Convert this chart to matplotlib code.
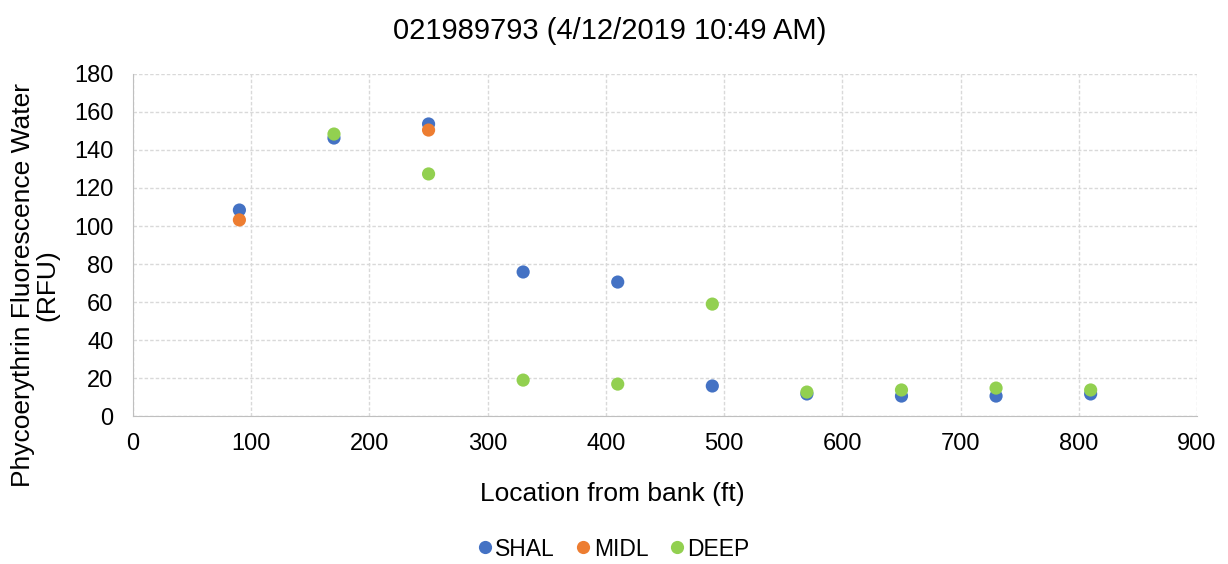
import matplotlib
matplotlib.use("Agg")
import matplotlib.pyplot as plt
from matplotlib.lines import Line2D

plt.rcParams['font.family'] = ['Liberation Sans', 'DejaVu Sans']

title = "021989793 (4/12/2019 10:49 AM)"
x_label = "Location from bank (ft)"
y_label = "Phycoerythrin Fluorescence Water\n(RFU)"

shal_x = [90, 170, 250, 330, 410, 490, 570, 650, 730, 810]
shal_y = [108.4, 146.3, 153.7, 75.8, 70.5, 15.8, 11.6, 10.5, 10.5, 11.6]
midl_x = [90, 250]
midl_y = [103.2, 150.5]
deep_x = [170, 250, 330, 410, 490, 570, 650, 730, 810]
deep_y = [148.4, 127.4, 18.9, 16.8, 58.9, 12.6, 13.7, 14.7, 13.7]

series = [("SHAL", shal_x, shal_y, "#4472C4"),
          ("MIDL", midl_x, midl_y, "#ED7D31"),
          ("DEEP", deep_x, deep_y, "#92D050")]

fig = plt.figure(figsize=(12.28, 5.64), dpi=100)
ax = fig.add_axes([0.1083, 0.2624, 0.8665, 0.6064])

for name, xs, ys, c in series:
    ax.scatter(xs, ys, s=90, color=c, edgecolors='none', zorder=3, label=name)

ax.set_xlim(0, 900)
ax.set_ylim(0, 180)
ax.set_xticks(range(0, 901, 100))
ax.set_yticks(range(0, 181, 20))
ax.grid(True, color='#D9D9D9', linestyle=(0, (2.5, 1.5)), linewidth=1)
ax.set_axisbelow(True)
for side in ['top', 'right']:
    ax.spines[side].set_visible(False)
for side in ['left', 'bottom']:
    ax.spines[side].set_color('#BFBFBF')
ax.tick_params(axis='both', length=0, labelsize=17, colors='black')
ax.tick_params(axis='y', pad=14)
ax.tick_params(axis='x', pad=12)

fig.text(0.4984, 1 - 494 / 564, x_label, fontsize=19, ha='center', va='center')
fig.text(0.0285, 1 - 285 / 564, y_label, fontsize=19, ha='center', va='center',
         rotation=90, linespacing=1.0, multialignment='center')
fig.text(0.4967, 1 - 31 / 564, title, fontsize=21, ha='center', va='center')

handles = [Line2D([], [], marker='o', linestyle='none', markersize=9.5,
                  markerfacecolor=c, markeredgecolor='none') for _, _, _, c in series]
fig.legend(handles, [s[0] for s in series], loc='center', bbox_to_anchor=(0.4984, 1 - 549 / 564),
           ncol=3, frameon=False, fontsize=16.5, handletextpad=0.0, columnspacing=0.8,
           handlelength=0.9)

fig.savefig("out.png", dpi=100)
